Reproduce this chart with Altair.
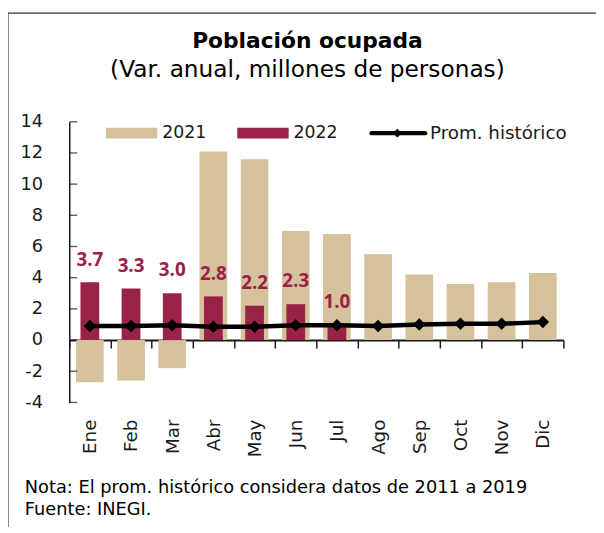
import altair as alt
import pandas as pd

# ---------------- data ----------------
meses = ["Ene", "Feb", "Mar", "Abr", "May", "Jun", "Jul", "Ago", "Sep", "Oct", "Nov", "Dic"]
v2021 = [-2.7, -2.6, -1.8, 12.1, 11.6, 7.0, 6.8, 5.5, 4.2, 3.6, 3.7, 4.3]
v2022 = [3.7, 3.3, 3.0, 2.8, 2.2, 2.3, 1.0]
prom = [0.9, 0.9, 0.95, 0.85, 0.85, 0.95, 0.95, 0.9, 1.0, 1.05, 1.05, 1.15]
y_ticks = [-4, -2, 0, 2, 4, 6, 8, 10, 12, 14]
titulo = "Población ocupada"
subtitulo = "(Var.  anual, millones de personas)"
nota = ["Nota: El prom. histórico considera datos de 2011 a 2019", "Fuente: INEGI."]
legend_labels = ["2021", "2022", "Prom. histórico"]

# ---------------- style ----------------
FONT = "DejaVu Sans"
FONT_NUM = "Open Sans"
C21 = "#D5C19B"
C22 = "#9B2247"
INK = "#1a1a1a"
W, H = 500, 284

df21 = pd.DataFrame({"mes": meses, "v": v2021})
df22 = pd.DataFrame({"mes": meses[:len(v2022)], "v": v2022})
dfp = pd.DataFrame({"mes": meses, "v": prom})
dft = pd.DataFrame({"v": y_ticks})

zero_offset = H * (0 - (-4)) / 18.0

xenc = alt.X(
    "mes:N", sort=meses,
    scale=alt.Scale(domain=meses, paddingInner=0, paddingOuter=0),
    axis=alt.Axis(
        title=None, offset=-zero_offset, tickBand="extent", tickSize=8,
        tickColor=INK, tickWidth=1.5, domainColor=INK, domainWidth=2,
        labelAngle=-90, labelPadding=72, labelFont=FONT, labelFontSize=18.5,
        labelColor=INK, grid=False,
    ),
)
yscale = alt.Scale(domain=[-4, 14], nice=False, zero=False)
yenc = alt.Y(
    "v:Q", scale=yscale,
    axis=alt.Axis(
        title=None, values=y_ticks, ticks=False, domainColor=INK, domainWidth=1.5,
        labelPadding=27, labelFont=FONT, labelFontSize=18, labelColor=INK, grid=False,
        labelOverlap=False, labelSeparation=0, labelExpr="'' + datum.value",
    ),
)

bar21 = alt.Chart(df21).mark_bar(width=28, color=C21).encode(x=xenc, y=yenc)
bar22 = alt.Chart(df22).mark_bar(width=19, color=C22).encode(x=xenc, y=yenc)
labels = alt.Chart(df22).mark_text(
    dy=-23, fontWeight="bold", fontSize=19, color=C22, font=FONT_NUM, baseline="middle"
).encode(x=xenc, y=yenc, text=alt.Text("v:Q", format=".1f"))
line = alt.Chart(dfp).mark_line(color="black", strokeWidth=4.5).encode(x=xenc, y=yenc)
pts = alt.Chart(dfp).mark_point(
    shape="diamond", filled=True, size=160, color="black", opacity=1
).encode(x=xenc, y=yenc)

yticks_in = alt.Chart(dft).mark_tick(
    orient="horizontal", size=8, thickness=1.4, color=INK
).encode(x=alt.value(4), y=yenc)

# ---------------- legend ----------------
one = lambda s: pd.DataFrame({"label": [s]})
leg_y = 11.5
leg1 = alt.Chart(one(legend_labels[0])).mark_rect(color=C21).encode(
    x=alt.value(37), x2=alt.value(89), y=alt.value(6), y2=alt.value(17))
leg1t = alt.Chart(one(legend_labels[0])).mark_text(
    align="left", baseline="middle", font=FONT, fontSize=17.5, color=INK
).encode(x=alt.value(94), y=alt.value(leg_y), text="label:N")
leg2 = alt.Chart(one(legend_labels[1])).mark_rect(color=C22).encode(
    x=alt.value(170), x2=alt.value(222), y=alt.value(6), y2=alt.value(17))
leg2t = alt.Chart(one(legend_labels[1])).mark_text(
    align="left", baseline="middle", font=FONT, fontSize=17.5, color=INK
).encode(x=alt.value(227), y=alt.value(leg_y), text="label:N")
leg3 = alt.Chart(one(legend_labels[2])).mark_rule(
    color="black", strokeWidth=4.5, strokeCap="round"
).encode(x=alt.value(306), x2=alt.value(360), y=alt.value(leg_y))
leg3p = alt.Chart(one(legend_labels[2])).mark_point(
    shape="diamond", filled=True, size=80, color="black", opacity=1
).encode(x=alt.value(332), y=alt.value(leg_y))
leg3t = alt.Chart(one(legend_labels[2])).mark_text(
    align="left", baseline="middle", font=FONT, fontSize=18.5, color=INK
).encode(x=alt.value(365), y=alt.value(leg_y), text="label:N")

# ---------------- titles / notes / frame ----------------
t1 = alt.Chart(one(titulo)).mark_text(
    font=FONT, fontSize=22, fontWeight="bold", align="center", baseline="middle", color="black"
).encode(x=alt.value(241), y=alt.value(-82), text="label:N")
t2 = alt.Chart(one(subtitulo)).mark_text(
    font=FONT, fontSize=23.5, align="center", baseline="middle", color="black"
).encode(x=alt.value(241), y=alt.value(-52), text="label:N")
n1 = alt.Chart(one(nota[0])).mark_text(
    font=FONT, fontSize=18, align="left", baseline="middle", color="black"
).encode(x=alt.value(-45), y=alt.value(371), text="label:N")
n2 = alt.Chart(one(nota[1])).mark_text(
    font=FONT, fontSize=18, align="left", baseline="middle", color="black"
).encode(x=alt.value(-45), y=alt.value(392.5), text="label:N")

frame_top = alt.Chart(one("f")).mark_rule(color="#333", strokeWidth=1.2).encode(
    x=alt.value(-62), x2=alt.value(533), y=alt.value(-110))
frame_left = alt.Chart(one("f")).mark_rule(color="#333", strokeWidth=1.2).encode(
    x=alt.value(-62), y=alt.value(-110), y2=alt.value(410))

chart = alt.layer(
    bar21, bar22, line, pts, labels, yticks_in,
    leg1, leg1t, leg2, leg2t, leg3, leg3p, leg3t,
    t1, t2, n1, n2, frame_top, frame_left,
).properties(
    width=W, height=H,
    autosize=alt.AutoSizeParams(type="none"),
    padding={"left": 62, "top": 112, "right": 33, "bottom": 128},
).configure_view(stroke=None).configure_axisY(labelOverlap=False)

chart.save("out.html", embed_options={"renderer": "svg", "actions": False})
